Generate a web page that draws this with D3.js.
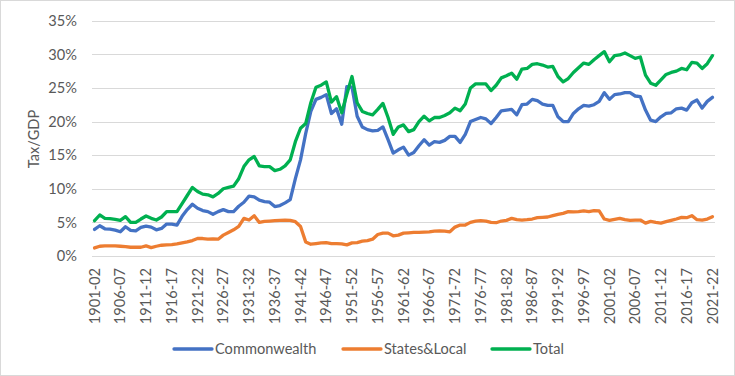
<!DOCTYPE html>
<html>
<head>
<meta charset="utf-8">
<script src="https://cdn.jsdelivr.net/npm/d3@7/dist/d3.min.js"></script>
<style>
  html, body { margin: 0; padding: 0; background: #ffffff; }
  svg { display: block; font-family: Lato, "Open Sans", "Liberation Sans", sans-serif; }
</style>
</head>
<body>
<script>
// ---------- DATA ----------
const startYears = d3.range(1901, 2022);
const categories = startYears.map(y => y + "-" + String((y + 1) % 100).padStart(2, "0"));

const tickLabels = ["1901-02","1906-07","1911-12","1916-17","1921-22","1926-27","1931-32","1936-37",
  "1941-42","1946-47","1951-52","1956-57","1961-62","1966-67","1971-72","1976-77","1981-82",
  "1986-87","1991-92","1996-97","2001-02","2006-07","2011-12","2016-17","2021-22"];

const yTicks = [0, 5, 10, 15, 20, 25, 30, 35];

const commonwealth = [
  3.95,4.5,4.05,4.0,3.85,3.6,4.35,3.8,3.75,4.25,
  4.45,4.3,3.9,4.1,4.75,4.75,4.6,5.9,6.9,7.7,
  7.1,6.75,6.6,6.2,6.6,6.9,6.6,6.6,7.4,8.0,
  8.9,8.8,8.3,8.1,8.0,7.35,7.5,7.9,8.4,11.5,
  14.3,18.2,21.5,23.3,23.6,24.0,21.2,21.9,19.6,25.2,
  25.1,20.8,19.2,18.8,18.6,18.7,19.2,17.3,15.3,15.8,
  16.2,15.0,15.4,16.4,17.3,16.5,17.0,16.9,17.2,17.8,
  17.8,16.9,18.1,20.0,20.3,20.6,20.4,19.7,20.6,21.6,
  21.7,21.8,21.0,22.5,22.6,23.3,23.1,22.6,22.4,22.4,
  20.7,20.0,20.0,21.2,21.9,22.4,22.3,22.5,23.0,24.3,
  23.3,24.0,24.1,24.3,24.3,23.8,23.7,21.7,20.2,20.0,
  20.7,21.2,21.3,21.9,22.0,21.7,22.8,23.2,22.0,23.0,
  23.6
];

const statesLocal = [
  1.2,1.45,1.5,1.5,1.5,1.45,1.4,1.3,1.3,1.3,
  1.5,1.25,1.45,1.6,1.65,1.7,1.8,1.95,2.1,2.3,
  2.6,2.6,2.5,2.55,2.5,3.1,3.5,3.9,4.4,5.6,
  5.35,6.0,5.0,5.15,5.2,5.25,5.3,5.35,5.3,5.1,
  4.4,2.1,1.75,1.85,1.95,2.0,1.85,1.85,1.8,1.65,
  1.95,2.0,2.2,2.3,2.5,3.2,3.4,3.4,3.0,3.1,
  3.4,3.45,3.5,3.5,3.55,3.6,3.7,3.75,3.7,3.6,
  4.3,4.6,4.6,5.0,5.2,5.25,5.2,5.0,4.95,5.2,
  5.3,5.6,5.4,5.35,5.4,5.5,5.7,5.75,5.8,6.0,
  6.2,6.35,6.6,6.55,6.6,6.7,6.6,6.75,6.7,5.5,
  5.3,5.45,5.6,5.4,5.3,5.35,5.35,4.9,5.15,5.0,
  4.9,5.1,5.3,5.5,5.75,5.7,6.0,5.4,5.35,5.5,
  5.85
];

const total = [
  5.25,6.1,5.6,5.55,5.45,5.3,5.85,5.0,5.0,5.5,
  5.95,5.6,5.35,5.8,6.6,6.6,6.6,7.8,9.0,10.2,
  9.6,9.2,9.1,8.8,9.3,10.0,10.2,10.4,11.5,13.3,
  14.3,14.8,13.4,13.3,13.3,12.7,12.9,13.4,14.3,17.0,
  19.0,19.7,22.8,25.1,25.4,25.9,22.9,23.7,21.3,24.1,
  26.7,22.8,21.5,21.2,21.0,21.8,22.7,20.6,18.1,19.2,
  19.5,18.5,18.8,20.0,20.8,20.1,20.6,20.6,20.9,21.3,
  22.0,21.6,22.6,25.0,25.6,25.6,25.6,24.6,25.4,26.5,
  26.8,27.2,26.3,27.8,27.9,28.5,28.6,28.4,28.1,28.2,
  26.7,25.9,26.4,27.3,28.0,28.7,28.5,29.2,29.8,30.4,
  28.9,29.8,29.9,30.2,29.8,29.4,29.6,26.9,25.7,25.4,
  26.2,27.0,27.3,27.5,27.9,27.7,28.8,28.7,27.9,28.6,
  29.8
];

const seriesNames = ["Commonwealth", "States&Local", "Total"];
const seriesColors = ["#4472C4", "#ED7D31", "#00B050"];
const seriesData = [commonwealth, statesLocal, total];

// ---------- CHART ----------
const W = 735, H = 376;
const FS = "14.6px";
const svg = d3.select("body").append("svg").attr("width", W).attr("height", H);

svg.append("rect").attr("x", 0.5).attr("y", 0.5).attr("width", W - 1).attr("height", H - 1)
  .attr("fill", "#ffffff").attr("stroke", "#d9d9d9").attr("stroke-width", 1);

const x = d3.scaleBand().domain(categories).range([92, 715]).padding(0);
const xc = d => x(d) + x.bandwidth() / 2;
const y = d3.scaleLinear().domain([0, 35]).range([256, 20.7]);

const textColor = "#595959";

// gridlines
svg.append("g").selectAll("line").data(yTicks).join("line")
  .attr("x1", 92).attr("x2", 715)
  .attr("y1", d => Math.round(y(d)) + 0.5).attr("y2", d => Math.round(y(d)) + 0.5)
  .attr("stroke", "#d9d9d9").attr("stroke-width", 1);

// y axis
const yAxis = svg.append("g").attr("transform", "translate(92,0)")
  .call(d3.axisLeft(y).tickValues(yTicks).tickFormat(d => d + "%").tickSize(0).tickPadding(15));
yAxis.select(".domain").remove();
yAxis.selectAll("text").attr("fill", textColor).style("font-size", FS)
  .style("font-family", "Lato, 'Open Sans', sans-serif");

// x axis
const xAxis = svg.append("g").attr("transform", "translate(0,256)")
  .call(d3.axisBottom(x).tickValues(tickLabels).tickSize(0));
xAxis.select(".domain").remove();
xAxis.selectAll("text")
  .attr("fill", textColor).style("font-size", FS)
  .style("font-family", "Lato, 'Open Sans', sans-serif")
  .attr("transform", "rotate(-90)")
  .attr("text-anchor", "end")
  .attr("x", -12).attr("y", 0).attr("dy", "0.35em");

// y title
svg.append("text").attr("transform", "translate(34,139) rotate(-90)")
  .attr("text-anchor", "middle").attr("dy", "0.35em")
  .attr("fill", textColor).style("font-size", FS).text("Tax/GDP");

// lines
const line = d3.line().x((d, i) => xc(categories[i])).y(d => y(d));
seriesData.forEach((s, k) => {
  svg.append("path").datum(s)
    .attr("d", line)
    .attr("fill", "none")
    .attr("stroke", seriesColors[k])
    .attr("stroke-width", 3.3)
    .attr("stroke-linejoin", "round")
    .attr("stroke-linecap", "round");
});

// legend
const legendX = [174, 343, 492];
const legend = svg.append("g");
seriesNames.forEach((n, k) => {
  legend.append("line")
    .attr("x1", legendX[k]).attr("x2", legendX[k] + 38)
    .attr("y1", 349).attr("y2", 349)
    .attr("stroke", seriesColors[k]).attr("stroke-width", 3.3).attr("stroke-linecap", "round");
  legend.append("text")
    .attr("x", legendX[k] + 41).attr("y", 349).attr("dy", "0.35em")
    .attr("fill", textColor).style("font-size", FS).text(n);
});
</script>
</body>
</html>
